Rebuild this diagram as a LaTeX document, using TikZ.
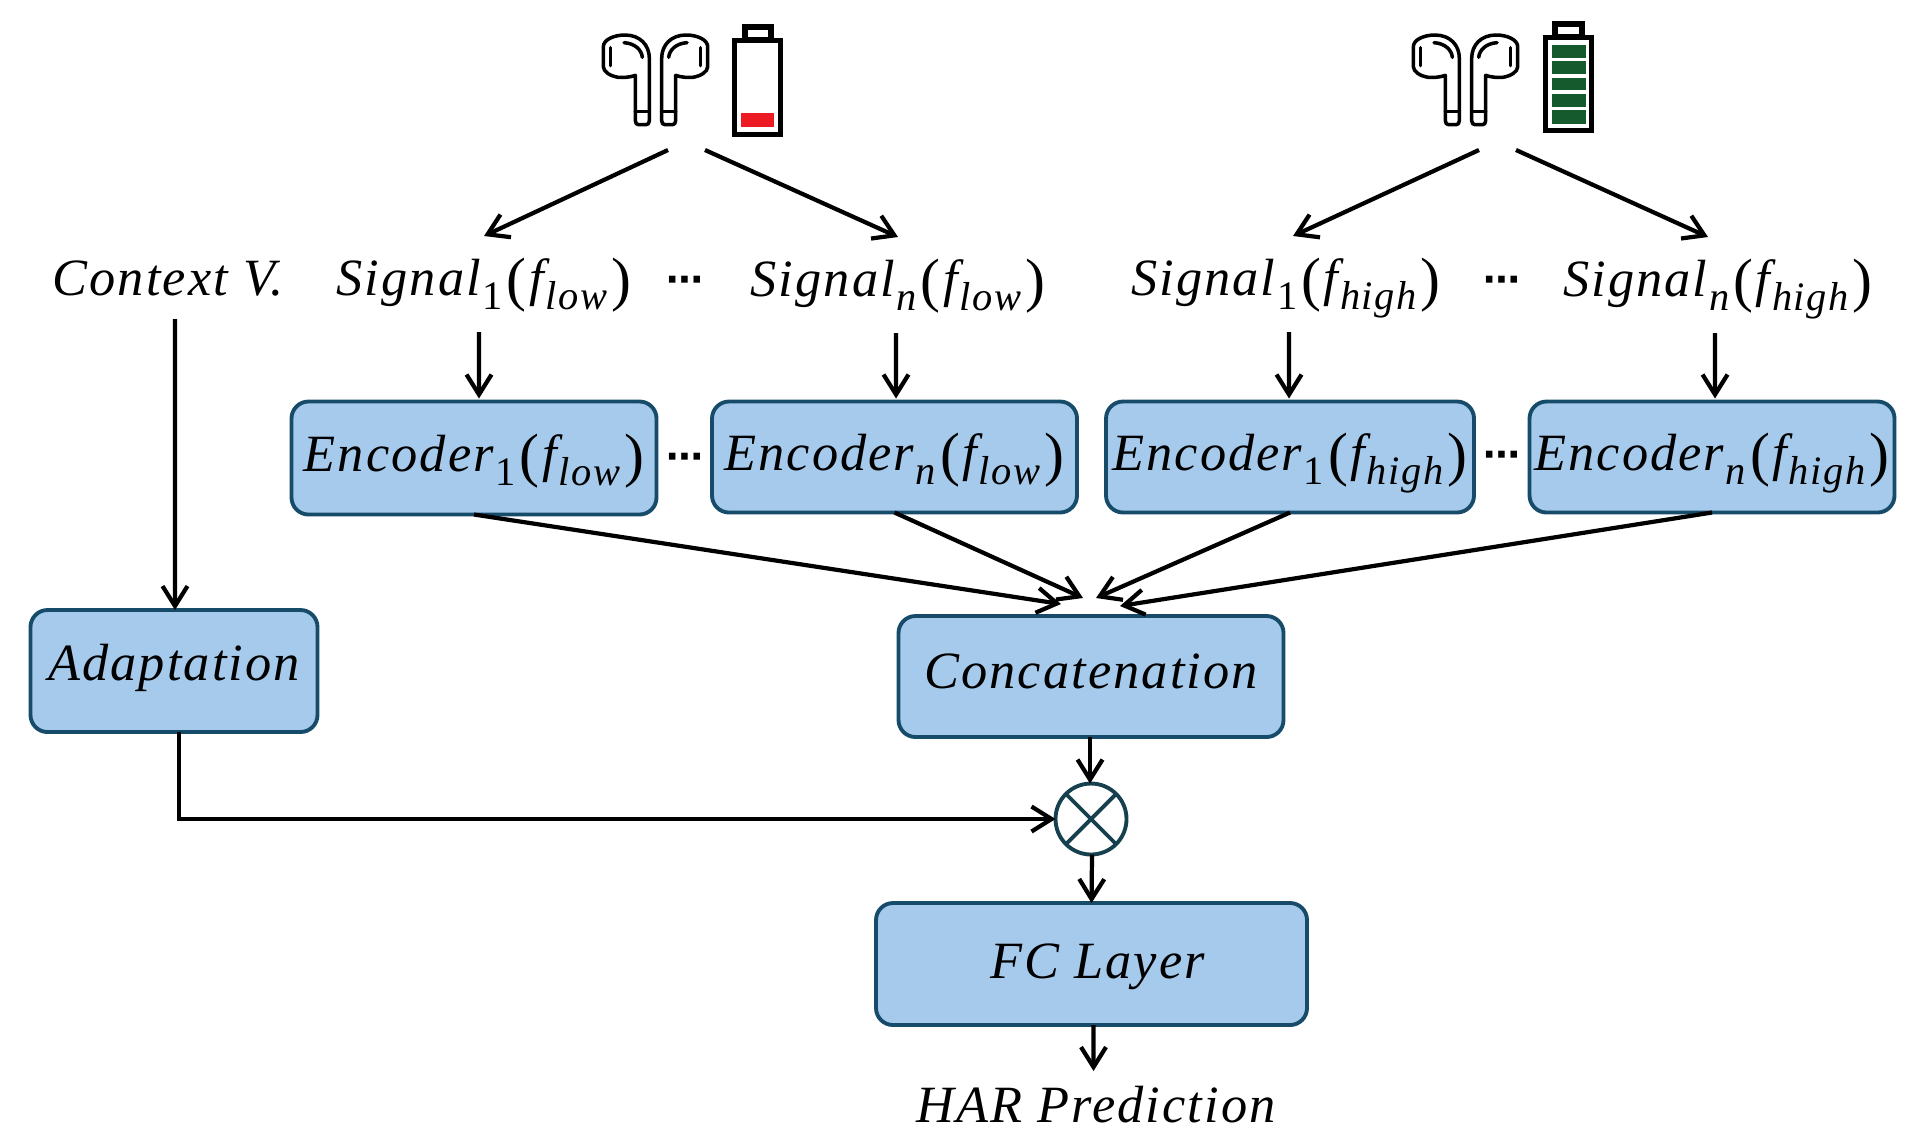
\documentclass[tikz,border=0pt]{standalone}
\usepackage{fontspec}
\usetikzlibrary{arrows.meta}
\setmainfont{Liberation Serif}
\newfontfamily\mifont[LetterSpace=4]{Liberation Serif}
\newfontfamily\dotfont{DejaVu Sans}
\definecolor{boxfill}{HTML}{A6CAEC}
\definecolor{boxedge}{HTML}{164C6A}
\definecolor{multedge}{HTML}{17404F}
\definecolor{battred}{HTML}{ED1C24}
\definecolor{battgreen}{HTML}{145A2D}
\newcommand\mi{\mifont\itshape\fontsize{14.9}{16}\selectfont}
\newcommand\subs[1]{\kern.03em\raisebox{-0.27em}{\fontsize{11.5}{11.5}\selectfont #1}\kern.03em}
\newcommand\subup[1]{\kern.03em\raisebox{-0.27em}{\upshape\fontsize{11.5}{11.5}\selectfont #1}\kern.03em}
\newcommand\lpar{{\upshape\kern.05em\raisebox{-.08em}{\fontsize{17}{17}\selectfont(}\kern.05em}}
\newcommand\rpar{{\upshape\kern.05em\raisebox{-.08em}{\fontsize{17}{17}\selectfont)}}}
\tikzset{
  arr/.style={draw=black,line width=1.2pt,-{Straight Barb[length=2mm,width=2.5mm,line width=1.2pt]}},
  blockbox/.style={draw=boxedge,fill=boxfill,line width=1.1pt,rounded corners=1.7mm,inner sep=0pt,outer sep=0pt,
    text height=3.5mm,text depth=.8mm,font=\mi},
  sigtext/.style={inner sep=0pt,outer sep=0pt,anchor=base,text height=5.9mm,text depth=3.7mm,font=\mi},
  dotstext/.style={inner sep=0pt,font=\dotfont\bfseries\fontsize{10.5}{11}\selectfont},
  budline/.style={line width=1pt,line join=round,line cap=round},
  battline/.style={line width=1.5pt,draw=black,fill=white},
}
\newcommand\budshape{%
  \draw[budline] (70,140) .. controls (70,120) and (100,105) .. (135,105) .. controls (180,105) and (208,135) .. (208,175) -- (208,362) .. controls (208,370) and (204,374) .. (198,374) -- (176,374) .. controls (170,374) and (166,370) .. (166,362) -- (166,226) .. controls (150,232) and (130,233) .. (115,232) .. controls (90,228) and (70,215) .. (70,200) -- cycle;
  \draw[budline] (92,143) -- (92,197);
  \draw[budline] (132,128) .. controls (165,130) and (185,150) .. (187,172);
  \draw[budline] (166,335) -- (208,335);
}
\begin{document}
\begin{tikzpicture}[x=.1mm,y=-.1mm]
\useasboundingbox (0,0) rectangle (1922,1147);
% earbuds
\begin{scope}[shift={(580,0)},x=.0333333mm,y=-.0333333mm]
  \budshape
  \begin{scope}[shift={(453,0)},xscale=-1]\budshape\end{scope}
\end{scope}
\begin{scope}[shift={(1390,0)},x=.0333333mm,y=-.0333333mm]
  \budshape
  \begin{scope}[shift={(453,0)},xscale=-1]\budshape\end{scope}
\end{scope}
% low battery
\draw[battline] (745,27) rectangle (771,40);
\draw[battline] (734.5,40.5) rectangle (780.5,134.5);
\fill[battred] (741,113) rectangle (774,127);
% full battery
\draw[battline] (1555,24) rectangle (1582,37);
\draw[battline] (1545.5,37.5) rectangle (1591.5,130.5);
\foreach \ya/\yb in {45/58,61/74,78/90,94/107,110/124}{
  \fill[battgreen] (1552,\ya) rectangle (1586,\yb);
}
% free ends below the earbuds
\coordinate (budLowL) at (668,150);
\coordinate (budLowR) at (705,150);
\coordinate (budHighL) at (1479,150);
\coordinate (budHighR) at (1516,150);
% input labels
\node[sigtext,text depth=2.4mm] (ctx) at (168,295) {Context V.};
\node[sigtext] (sigLa) at (484,295) {Signal\subup{1}\lpar f\subs{low}\rpar};
\node[sigtext] (sigLn) at (898,296) {Signal\subs{n}\lpar f\subs{low}\rpar};
\node[sigtext] (sigHa) at (1286,295) {Signal\subup{1}\lpar f\subs{high}\rpar};
\node[sigtext] (sigHn) at (1718,296) {Signal\subs{n}\lpar f\subs{high}\rpar};
\node[dotstext] (dotsA) at (685,284) {\char"22EF};
\node[dotstext] (dotsB) at (1502,284) {\char"22EF};
% encoders
\node[blockbox,minimum width=36.5mm,minimum height=11.3mm] (encLa) at (474,458) {Encoder\subup{1}\lpar f\subs{low}\rpar};
\node[blockbox,minimum width=36.5mm,minimum height=11.1mm] (encLn) at (894.5,457) {Encoder\subs{n}\lpar f\subs{low}\rpar};
\node[blockbox,minimum width=36.8mm,minimum height=11.1mm] (encHa) at (1290,457) {Encoder\subup{1}\lpar f\subs{high}\rpar};
\node[blockbox,minimum width=36.5mm,minimum height=11.1mm] (encHn) at (1712,457) {Encoder\subs{n}\lpar f\subs{high}\rpar};
\node[dotstext] (dotsC) at (685,461) {\char"22EF};
\node[dotstext] (dotsD) at (1502,459) {\char"22EF};
% lower blocks
\node[blockbox,minimum width=28.7mm,minimum height=12.2mm,text height=3mm,text depth=1.1mm] (adapt) at (174,671) {Adaptation};
\node[blockbox,minimum width=38.5mm,minimum height=12.1mm,text height=3.4mm,text depth=1mm] (concat) at (1091,676.5) {Concatenation};
\node[circle,draw=multedge,fill=white,line width=1.1pt,minimum size=7.1mm,inner sep=0pt,outer sep=0pt] (mult) at (1091,819) {};
\draw[multedge,line width=1.1pt] (mult.north east) -- (mult.south west) (mult.north west) -- (mult.south east);
\node[blockbox,minimum width=43.1mm,minimum height=12.2mm,text height=3.6mm,text depth=.8mm] (fc) at (1091.5,964) {\hspace*{1.2mm}FC Layer};
\node[sigtext,text height=5.1mm,text depth=1.5mm] (har) at (1096,1122) {HAR Prediction};
% connectors
\draw[arr] (budLowL) -- (sigLa.north);
\draw[arr] (budLowR) -- (sigLn.north);
\draw[arr] (budHighL) -- ([xshift=.7mm]sigHa.north);
\draw[arr] (budHighR) -- ([xshift=-1mm]sigHn.north);
\draw[arr,shorten >=.3mm] ([xshift=-.5mm]sigLa.south) -- ([xshift=.5mm]encLa.north);
\draw[arr,shorten >=.3mm] ([xshift=-.2mm]sigLn.south) -- ([xshift=.15mm]encLn.north);
\draw[arr,shorten >=.3mm] ([xshift=.3mm]sigHa.south) -- ([xshift=-.1mm]encHa.north);
\draw[arr,shorten >=.3mm] ([xshift=-.3mm]sigHn.south) -- ([xshift=.3mm]encHn.north);
\draw[arr] ([xshift=.7mm]ctx.south) -- ([xshift=.1mm]adapt.north);
\draw[arr] (encLa.south) -- ([shift={(-30,-12)}]concat.north);
\draw[arr] (encLn.south) -- ([shift={(-8,-18)}]concat.north);
\draw[arr] (encHa.south) -- ([shift={(5,-18)}]concat.north);
\draw[arr] (encHn.south) -- ([shift={(29,-10)}]concat.north);
\draw[arr] ([xshift=-.1mm]concat.south) -- ([xshift=-.1mm]mult.north);
\draw[arr] ([xshift=.1mm]mult.south) -- (fc.north);
\draw[arr] ([xshift=.2mm]fc.south) -- ([xshift=-.25mm]har.north);
\draw[arr] ([xshift=.5mm]adapt.south) |- (mult.west);
\end{tikzpicture}
\end{document}
